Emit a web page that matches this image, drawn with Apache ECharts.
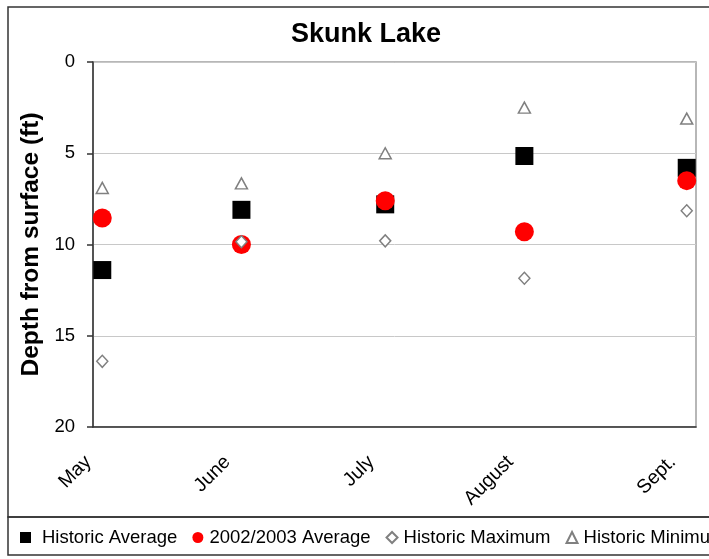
<!DOCTYPE html>
<html>
<head>
<meta charset="utf-8">
<script src="https://cdn.jsdelivr.net/npm/echarts@6/dist/echarts.min.js"></script>
<style>
html,body{margin:0;padding:0;background:#fff;}
#chart{width:709px;height:559px;}
</style>
</head>
<body>
<div id="chart"></div>
<script>
var months = ['May', 'June', 'July', 'August', 'Sept.'];
var sampleDays = [2, 32, 63, 93, 128];
var historicAverage = [11.4, 8.1, 7.8, 5.15, 5.8];
var average0203 = [8.55, 10.0, 7.6, 9.3, 6.5];
var historicMaximum = [16.4, 9.85, 9.8, 11.85, 8.15];
var historicMinimum = [6.9, 6.65, 5.0, 2.5, 3.1];
var yTicks = [0, 5, 10, 15, 20];

function pairs(vals) {
  return vals.map(function (v, i) { return [sampleDays[i], v]; });
}

var chart = echarts.init(document.getElementById('chart'), null, {renderer: 'canvas'});
var font = 'Liberation Sans, Arial, sans-serif';
var legendText = function (pad) {
  return {fontSize: 18.5, color: '#000', fontFamily: font, padding: [0, 0, 0, pad]};
};
var option = {
  backgroundColor: '#ffffff',
  animation: false,
  textStyle: {fontFamily: font},
  title: {
    text: 'Skunk Lake',
    left: 361,
    textAlign: 'center',
    top: 16,
    textStyle: {fontSize: 27, fontWeight: 'bold', color: '#000', fontFamily: font}
  },
  graphic: [
    {type: 'rect', shape: {x: 8, y: 7, width: 720, height: 510}, style: {fill: 'none', stroke: '#333', lineWidth: 1.5}, silent: true, z: -1},
    {type: 'rect', shape: {x: 8, y: 517, width: 720, height: 38}, style: {fill: 'none', stroke: '#333', lineWidth: 1.5}, silent: true, z: -1}
  ],
  legend: {
    left: 15,
    top: 523,
    width: 1200,
    itemWidth: 11,
    itemHeight: 11,
    itemGap: 15,
    textStyle: legendText(1),
    data: [
      {name: 'Historic Average', icon: 'rect', textStyle: legendText(6)},
      {name: '2002/2003 Average', icon: 'circle', textStyle: legendText(1)},
      {name: 'Historic Maximum', icon: 'diamond', textStyle: legendText(1)},
      {name: 'Historic Minimum', icon: 'triangle', textStyle: legendText(1)}
    ]
  },
  grid: [
    {left: 93, top: 62, right: 13, bottom: 132, show: true, borderColor: '#a0a0a0', borderWidth: 1.5, backgroundColor: '#fff'},
    {left: 79, top: 62, right: 27, bottom: 132, show: false}
  ],
  xAxis: [
    {
      type: 'value', gridIndex: 0, min: 0, max: 130,
      axisLine: {show: true, onZero: false, lineStyle: {color: '#333', width: 1.5}},
      axisTick: {show: false}, axisLabel: {show: false}, splitLine: {show: false}
    },
    {
      type: 'value', gridIndex: 1, min: 0, max: 130, position: 'bottom',
      axisLine: {show: false}, axisTick: {show: false}, splitLine: {show: false},
      axisLabel: {
        show: true, rotate: 45, margin: 32, fontSize: 19.5, color: '#000', fontFamily: font,
        customValues: sampleDays,
        showMinLabel: true, showMaxLabel: true,
        formatter: function (v) {
          var i = sampleDays.indexOf(v);
          return i >= 0 ? months[i] : '';
        }
      }
    }
  ],
  yAxis: [
    {
      type: 'value', gridIndex: 0, inverse: true, min: 0, max: 20, interval: 5,
      name: 'Depth from surface (ft)', nameLocation: 'middle', nameGap: 46,
      nameTextStyle: {fontSize: 24.5, fontWeight: 'bold', color: '#000', fontFamily: font},
      axisLine: {show: true, lineStyle: {color: '#333', width: 1.5}},
      axisTick: {show: true, length: 6, lineStyle: {color: '#333', width: 1.5}},
      axisLabel: {fontSize: 18.5, color: '#000', margin: 18, fontFamily: font,
        formatter: function (v) { return yTicks.indexOf(v) >= 0 ? String(v) : ''; }},
      splitLine: {show: true, lineStyle: {color: '#c8c8c8', width: 1}}
    },
    {type: 'value', gridIndex: 1, show: false, min: 0, max: 20}
  ],
  series: [
    {
      name: 'Historic Average', type: 'scatter', xAxisIndex: 0, yAxisIndex: 0,
      symbol: 'rect', symbolSize: 18, clip: false,
      itemStyle: {color: '#000', opacity: 1},
      data: pairs(historicAverage)
    },
    {
      name: '2002/2003 Average', type: 'scatter', xAxisIndex: 0, yAxisIndex: 0,
      symbol: 'circle', symbolSize: 19, clip: false,
      itemStyle: {color: '#ff0000', opacity: 1},
      data: pairs(average0203)
    },
    {
      name: 'Historic Maximum', type: 'scatter', xAxisIndex: 0, yAxisIndex: 0,
      symbol: 'diamond', symbolSize: [11, 12], clip: false,
      itemStyle: {color: '#fff', borderColor: '#808080', borderWidth: 1.5, opacity: 1},
      data: pairs(historicMaximum)
    },
    {
      name: 'Historic Minimum', type: 'scatter', xAxisIndex: 0, yAxisIndex: 0,
      symbol: 'triangle', symbolSize: [12, 11], clip: false,
      itemStyle: {color: '#fff', borderColor: '#808080', borderWidth: 1.5, opacity: 1},
      data: pairs(historicMinimum)
    }
  ]
};
chart.setOption(option);
</script>
</body>
</html>
